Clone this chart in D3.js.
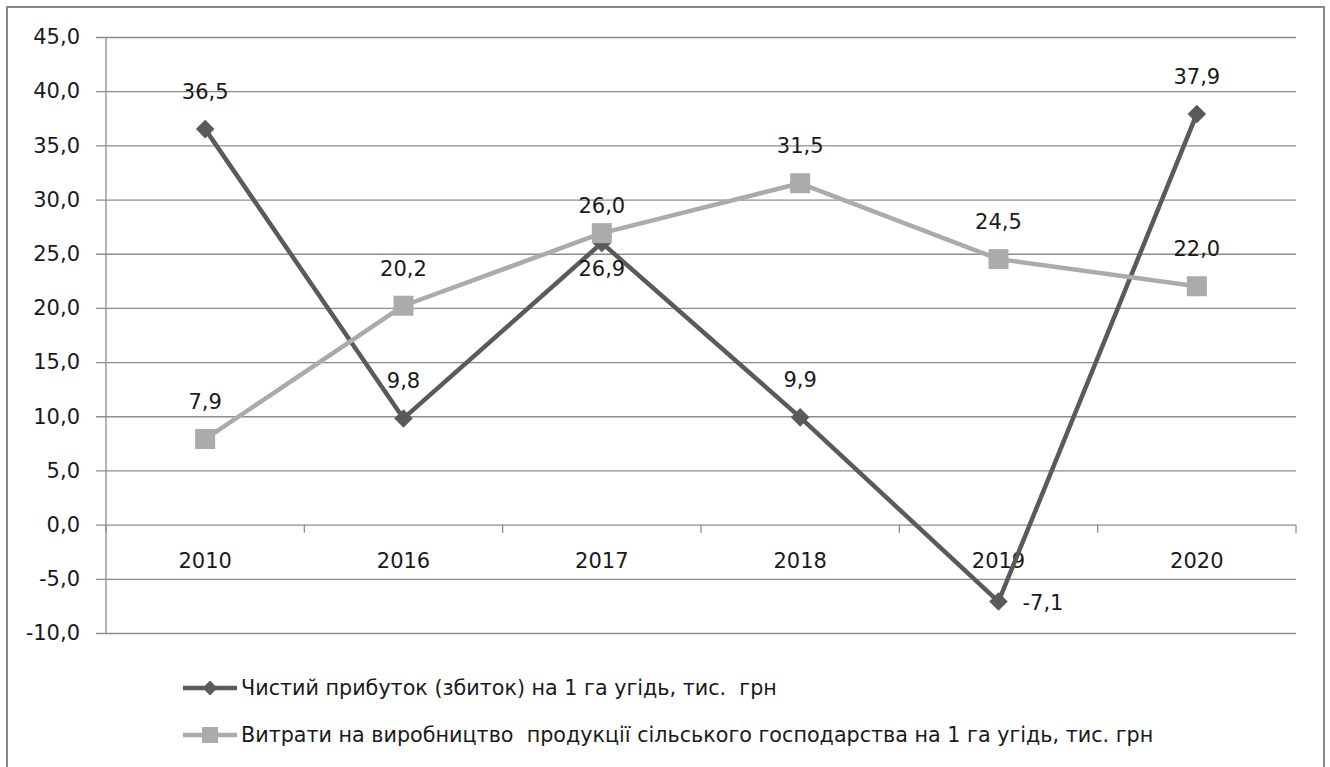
<!DOCTYPE html>
<html><head><meta charset="utf-8">
<script src="https://cdn.jsdelivr.net/npm/d3@7"></script>
<style>body{margin:0;background:#fff}svg{display:block}text{font-family:"DejaVu Sans",sans-serif;fill:#1a1a1a;white-space:pre}</style>
</head><body>
<svg id="c" width="1330" height="767"></svg>
<script>
const categories = ["2010","2016","2017","2018","2019","2020"];
const profit = [36.5, 9.8, 26.0, 9.9, -7.1, 37.9];
const costs = [7.9, 20.2, 26.9, 31.5, 24.5, 22.0];
const yTicks = [-10,-5,0,5,10,15,20,25,30,35,40,45];
const seriesNames = ["Чистий прибуток (збиток) на 1 га угідь, тис.  грн",
  "Витрати на виробництво  продукції сільського господарства на 1 га угідь, тис. грн"];

(function(){
const svg = d3.select("#c");
const fmt = v => d3.format(".1f")(v).replace(".", ",").replace("−","-");
const pL = 106, pR = 1296, pT = 37, pB = 633;
const x = d3.scaleBand().domain(categories).range([pL, pR]);
const y = d3.scaleLinear().domain([-10, 45]).range([pB, pT]);
const fs = 21;

svg.append("rect").attr("x",7).attr("y",7).attr("width",1317).attr("height",800)
  .attr("fill","none").attr("stroke","#888").attr("stroke-width",2);

const yAxis = d3.axisLeft(y).tickValues(yTicks).tickSize(pR-96).tickFormat(fmt).tickPadding(16);
const ga = svg.append("g").attr("transform",`translate(${pR},0)`).call(yAxis);
ga.select(".domain").remove();
ga.selectAll(".tick line").attr("stroke","#8c8c8c").attr("stroke-width",1.3);
ga.selectAll(".tick text").attr("font-size",fs).attr("font-family","DejaVu Sans").attr("fill","#1a1a1a");
svg.append("line").attr("x1",pL).attr("x2",pL).attr("y1",pT).attr("y2",pB)
  .attr("stroke","#8c8c8c").attr("stroke-width",1.3);

const gx = svg.append("g").attr("transform",`translate(0,${y(0)})`);
x.domain().forEach((c)=>{
  gx.append("line").attr("x1",x(c)+x.bandwidth()).attr("x2",x(c)+x.bandwidth()).attr("y1",0).attr("y2",8)
    .attr("stroke","#8c8c8c").attr("stroke-width",1.3);
  gx.append("text").attr("x",x(c)+x.bandwidth()/2).attr("y",43).attr("text-anchor","middle")
    .attr("font-size",fs).text(c);
});
gx.append("line").attr("x1",pL).attr("x2",pL).attr("y1",0).attr("y2",8).attr("stroke","#8c8c8c").attr("stroke-width",1.3);

const cx = c => x(c)+x.bandwidth()/2;
const line = d3.line().x((d,i)=>cx(categories[i])).y(d=>y(d));
const dark = "#5a5a5a", light = "#ababab";

svg.append("path").datum(profit).attr("d",line).attr("fill","none").attr("stroke",dark).attr("stroke-width",4.5).attr("stroke-linejoin","round");
svg.selectAll(".dm").data(profit).join("path").attr("class","dm")
  .attr("d",d3.symbol(d3.symbolDiamond2,220)())
  .attr("transform",(d,i)=>`translate(${cx(categories[i])},${y(d)})`).attr("fill",dark);

svg.append("path").datum(costs).attr("d",line).attr("fill","none").attr("stroke",light).attr("stroke-width",4.5).attr("stroke-linejoin","round");
svg.selectAll(".sq").data(costs).join("rect").attr("class","sq")
  .attr("x",(d,i)=>cx(categories[i])-10).attr("y",d=>y(d)-10).attr("width",20).attr("height",20).attr("fill",light);

profit.forEach((v,i)=>{
  const t = svg.append("text").attr("font-size",fs).text(fmt(v));
  if (v < 0) t.attr("x",cx(categories[i])+24).attr("y",y(v)+8).attr("text-anchor","start");
  else t.attr("x",cx(categories[i])).attr("y",y(v)-30).attr("text-anchor","middle");
});
costs.forEach((v,i)=>{
  const t = svg.append("text").attr("font-size",fs).attr("text-anchor","middle").attr("x",cx(categories[i])).text(fmt(v));
  if (i === 2) t.attr("y",y(v)+43); else t.attr("y",y(v)-30);
});

const lg = [[dark,"d"],[light,"s"]];
lg.forEach((s,i)=>{
  const ly = 688 + i*47;
  svg.append("line").attr("x1",183).attr("x2",237).attr("y1",ly).attr("y2",ly).attr("stroke",s[0]).attr("stroke-width",4.5);
  if (s[1]==="d") svg.append("path").attr("d",d3.symbol(d3.symbolDiamond2,140)()).attr("transform",`translate(210,${ly})`).attr("fill",s[0]);
  else svg.append("rect").attr("x",202).attr("y",ly-8).attr("width",16).attr("height",16).attr("fill",s[0]);
  svg.append("text").attr("x",241).attr("y",ly+7).attr("font-size",20.7).text(seriesNames[i]);
});
})();
</script>
</body></html>
